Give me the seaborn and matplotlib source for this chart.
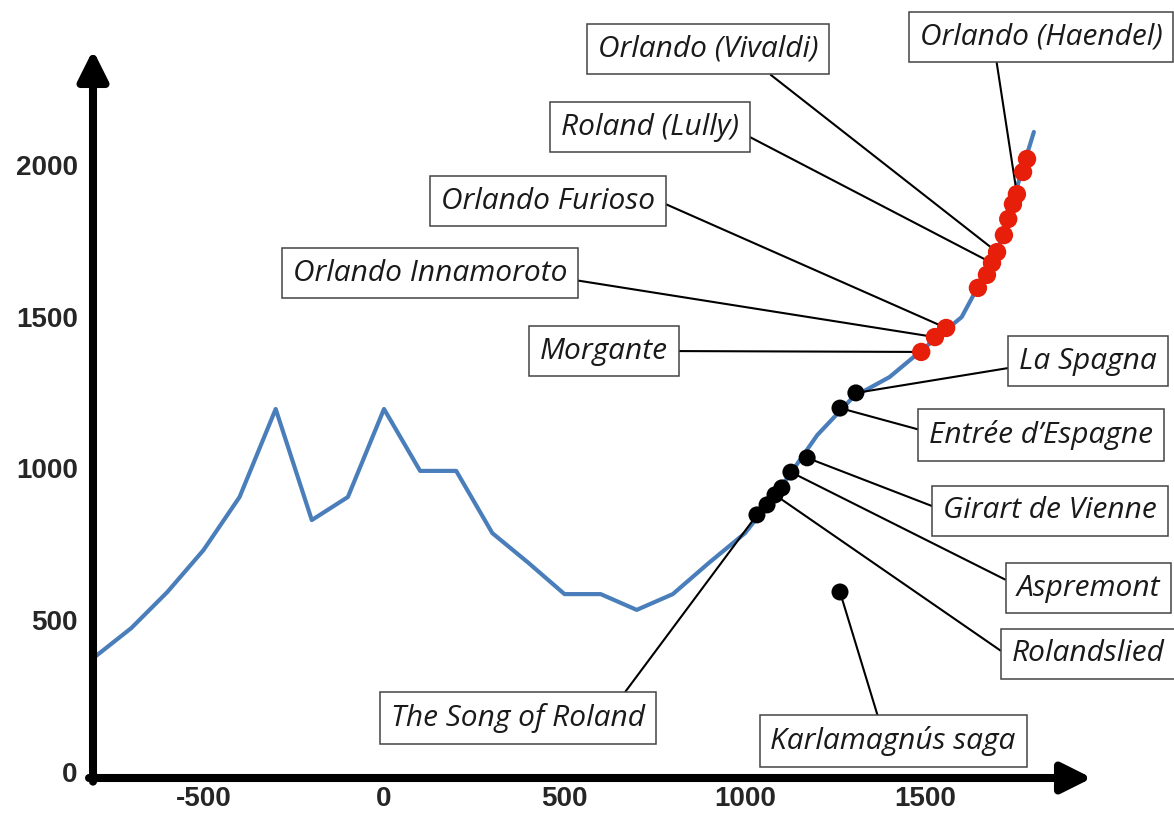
import matplotlib
matplotlib.use('Agg')
import matplotlib.pyplot as plt
import seaborn as sns
import pandas as pd

# Кривая (годы и значения)
years = [-800, -700, -600, -500, -400, -300, -200, -100, 0, 100, 200, 300, 400,
         500, 600, 700, 800, 900, 1000, 1100, 1200, 1300, 1400, 1500, 1600, 1700, 1800]
values = [380, 474, 593, 731, 906, 1196, 830, 906, 1196, 992, 992, 787, 689,
          586, 586, 534, 586, 689, 787, 939, 1110, 1236, 1301, 1400, 1499, 1720, 2109]

# Красные точки (итальянские / поздние версии)
red_years = [1488, 1526, 1557, 1645, 1670, 1684, 1698, 1717, 1729, 1742, 1753, 1770, 1781]
red_values = [1384, 1433, 1463, 1595, 1638, 1677, 1713, 1769, 1822, 1871, 1904, 1977, 2020]

# Чёрные точки (средневековые тексты)
black_years = [1033, 1061, 1083, 1102, 1127, 1172, 1263, 1307, 1263]
black_values = [847, 880, 913, 936, 988, 1035, 1199, 1249, 593]

x_ticks = [-500, 0, 500, 1000, 1500]
y_ticks = [0, 500, 1000, 1500, 2000]

# Подписи: текст, группа точек, индекс точки
label_texts = ['Orlando (Vivaldi)', 'Orlando (Haendel)', 'Roland (Lully)', 'Orlando Furioso',
               'Orlando Innamoroto', 'Morgante', 'La Spagna', 'Entrée d\u2019Espagne',
               'Girart de Vienne', 'Aspremont', 'Rolandslied', 'The Song of Roland',
               'Karlamagnús saga']
label_groups = ['red', 'red', 'red', 'red', 'red', 'red', 'black', 'black',
                'black', 'black', 'black', 'black', 'black']
label_index = [6, 10, 5, 2, 1, 0, 7, 6, 5, 4, 2, 0, 8]

# Положение подписей (в координатах данных) и точка крепления линии
label_pos = [(897, 2382), (1820, 2422), (737, 2125), (454, 1881), (127, 1644), (609, 1387),
             (1950, 1354), (1820, 1110), (1845, 860), (1950, 606), (1950, 389),
             (371, 178), (1410, 102)]
label_relpos = [(0.72, 0), (0.31, 0), (1, 0.35), (1, 0.56), (1, 0.3), (1, 0.5),
                (0, 0.32), (0, 0.59), (0, 0.52), (0, 0.6), (0, 0.35), (0.89, 1), (0.45, 1)]

sns.set_theme(style='white')

fig = plt.figure(figsize=(11.74, 8.14), dpi=100)
ax = fig.add_axes([93 / 1174, 36 / 814, (1092 - 93) / 1174, (778 - 50) / 814])

line_df = pd.DataFrame({'year': years, 'value': values})
sns.lineplot(data=line_df, x='year', y='value', color='#4a7ebb', linewidth=3, ax=ax, zorder=2)

red_df = pd.DataFrame({'year': red_years, 'value': red_values})
black_df = pd.DataFrame({'year': black_years, 'value': black_values})
sns.scatterplot(data=red_df, x='year', y='value', color='#e61e0a', s=175, edgecolor='none',
                ax=ax, zorder=6)
sns.scatterplot(data=black_df, x='year', y='value', color='black', s=150, edgecolor='none',
                ax=ax, zorder=6)

ax.set_xlim(-806, 1961)
ax.set_ylim(-20, 2379)

for text, group, idx, pos, rel in zip(label_texts, label_groups, label_index, label_pos, label_relpos):
    if group == 'red':
        xy = (red_years[idx], red_values[idx])
    else:
        xy = (black_years[idx], black_values[idx])
    ax.annotate(text, xy=xy, xytext=pos, ha='center', va='center',
                fontsize=21.5, family='Open Sans', style='italic', color='#1a1a1a',
                bbox=dict(boxstyle='square,pad=0.36', fc='white', ec='#444444', lw=1.1),
                arrowprops=dict(arrowstyle='-', color='black', lw=1.5, relpos=rel,
                                shrinkA=0, shrinkB=0),
                annotation_clip=False, zorder=4)

# Оси со стрелками
for side in ['top', 'right', 'left', 'bottom']:
    ax.spines[side].set_visible(False)
ax.annotate('', xy=(1, 0), xytext=(-0.004, 0), xycoords='axes fraction',
            arrowprops=dict(arrowstyle='-|>,head_length=0.6,head_width=0.3', color='black',
                            lw=5.8, mutation_scale=30, shrinkA=0, shrinkB=0),
            annotation_clip=False, zorder=7)
ax.annotate('', xy=(0, 1), xytext=(0, -0.005), xycoords='axes fraction',
            arrowprops=dict(arrowstyle='-|>,head_length=0.6,head_width=0.3', color='black',
                            lw=5.8, mutation_scale=30, shrinkA=0, shrinkB=0),
            annotation_clip=False, zorder=7)

ax.set_xticks(x_ticks)
ax.set_yticks(y_ticks)
ax.set_xticklabels([str(v) for v in x_ticks], fontsize=20, fontweight='bold', family='Liberation Sans')
ax.set_yticklabels([str(v) for v in y_ticks], fontsize=20, fontweight='bold', family='Liberation Sans')
ax.tick_params(axis='x', length=0, pad=6)
ax.tick_params(axis='y', length=0, pad=11)
ax.set_xlabel('')
ax.set_ylabel('')
ax.grid(False)

fig.savefig('out.png', dpi=100)
